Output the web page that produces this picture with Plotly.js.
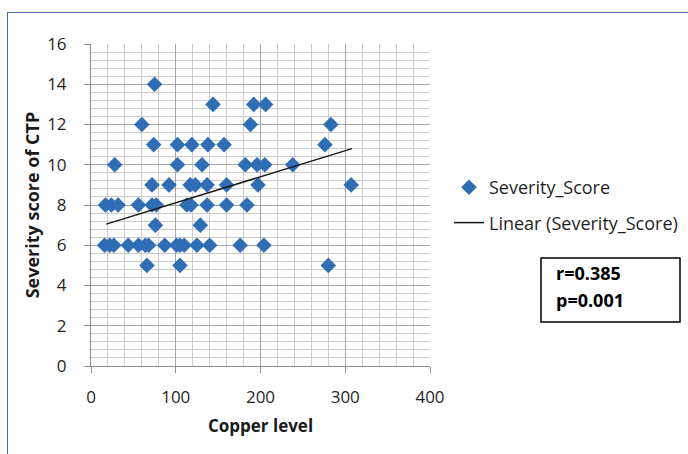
<!DOCTYPE html>
<html>
<head>
<meta charset="utf-8">
<script src="https://cdn.plot.ly/plotly-3.0.1.min.js"></script>
<style>
html,body{margin:0;padding:0;background:#fff;}
#wrap{position:relative;width:688px;height:454px;overflow:hidden;}
#chart{position:absolute;left:0;top:0;width:688px;height:454px;}
#frame{position:absolute;left:7px;top:12px;width:720px;height:480px;border-left:1.5px solid #4a6db0;border-top:1.5px solid #4a6db0;pointer-events:none;}
</style>
</head>
<body>
<div id="wrap">
<div id="chart"></div>
<div id="frame"></div>
</div>
<script>
// Copper level (x) and CTP severity score (y)
const copper = [
  75,
  144, 192, 206,
  60, 188, 283,
  74, 102, 119, 138, 157, 276,
  28, 102, 131, 182, 196, 205, 238,
  72, 92, 117, 123, 137, 160, 197, 307,
  17, 24, 32, 56, 72, 77, 113, 118, 137, 160, 184,
  76, 129,
  16, 22, 27, 44, 56, 64, 68, 87, 101, 105, 110, 125, 140, 176, 204,
  66, 105, 280
];
const severity = [
  14,
  13, 13, 13,
  12, 12, 12,
  11, 11, 11, 11, 11, 11,
  10, 10, 10, 10, 10, 10, 10,
  9, 9, 9, 9, 9, 9, 9, 9,
  8, 8, 8, 8, 8, 8, 8, 8, 8, 8, 8,
  7, 7,
  6, 6, 6, 6, 6, 6, 6, 6, 6, 6, 6, 6, 6, 6, 6,
  5, 5, 5
];
// Linear trendline endpoints
const trendX = [18, 308];
const trendY = [7.05, 10.8];
const xTicks = [0, 100, 200, 300, 400];
const yTicks = [0, 2, 4, 6, 8, 10, 12, 14, 16];
const statsText = ["r=0.385", "p=0.001"];

const FONT = "Open Sans, Noto Sans, sans-serif";

const traces = [
  {
    type: "scatter", mode: "markers", name: "Severity_Score",
    x: copper, y: severity, legendgroup: "pts",
    marker: {symbol: "diamond", size: 12, color: "#2f6db5"}
  },
  {
    type: "scatter", mode: "lines", name: "Linear (Severity_Score)",
    x: trendX, y: trendY, legendgroup: "fit",
    line: {color: "#1a1a1a", width: 1.5}
  }
];

const plotW = 339, plotH = 322, mL = 91, mT = 44;
const px = v => (v - mL) / plotW;
const py = v => (mT + plotH - v) / plotH;

const layout = {
  width: 688, height: 454,
  margin: {l: mL, r: 688 - mL - plotW, t: mT, b: 454 - mT - plotH, autoexpand: false},
  paper_bgcolor: "#ffffff", plot_bgcolor: "#ffffff",
  font: {family: FONT, size: 17, color: "#1f1f1f"},
  showlegend: true,
  xaxis: {
    range: [0, 400], tickvals: xTicks, ticktext: xTicks.map(String),
    showgrid: true, gridcolor: "#a6a6a6", gridwidth: 1,
    showline: true, linecolor: "#8c8c8c", linewidth: 1,
    ticks: "outside", ticklen: 6, tickcolor: "#8c8c8c",
    ticklabelstandoff: 10,
    tickfont: {family: FONT, size: 17, color: "#1f1f1f"},
    zeroline: false, fixedrange: true,
    minor: {dtick: 20, showgrid: true, gridcolor: "#cccccc", gridwidth: 1},
    title: {text: "<b>Copper level</b>", font: {family: FONT, size: 17, color: "#1a1a1a"}, standoff: 12}
  },
  yaxis: {
    range: [0, 16], tickvals: yTicks, ticktext: yTicks.map(String),
    showgrid: true, gridcolor: "#a6a6a6", gridwidth: 1,
    showline: true, linecolor: "#8c8c8c", linewidth: 1,
    ticks: "outside", ticklen: 6, tickcolor: "#8c8c8c",
    ticklabelstandoff: 14,
    tickfont: {family: FONT, size: 17, color: "#1f1f1f"},
    zeroline: false, fixedrange: true,
    minor: {dtick: 0.4, showgrid: true, gridcolor: "#cccccc", gridwidth: 1},
    title: {text: "<b>Severity score of CTP</b>", font: {family: FONT, size: 18, color: "#1a1a1a"}, standoff: 2}
  },
  legend: {
    x: px(449), y: py(169), xanchor: "left", yanchor: "top",
    traceorder: "grouped", tracegroupgap: 9,
    bgcolor: "rgba(0,0,0,0)", font: {family: FONT, size: 18, color: "#1f1f1f"}
  },
  shapes: [
    {type: "rect", xref: "paper", yref: "paper",
     x0: px(541), x1: px(680), y0: py(322), y1: py(258),
     line: {color: "#000000", width: 1.5}, fillcolor: "rgba(0,0,0,0)"}
  ],
  annotations: [
    {xref: "paper", yref: "paper", x: px(554), y: py(273), xanchor: "left", yanchor: "middle",
     text: "<b>" + statsText[0] + "</b>", showarrow: false, font: {family: FONT, size: 18, color: "#000"}},
    {xref: "paper", yref: "paper", x: px(554), y: py(300), xanchor: "left", yanchor: "middle",
     text: "<b>" + statsText[1] + "</b>", showarrow: false, font: {family: FONT, size: 18, color: "#000"}}
  ]
};

Plotly.newPlot("chart", traces, layout, {staticPlot: true, displayModeBar: false});
</script>
</body>
</html>
